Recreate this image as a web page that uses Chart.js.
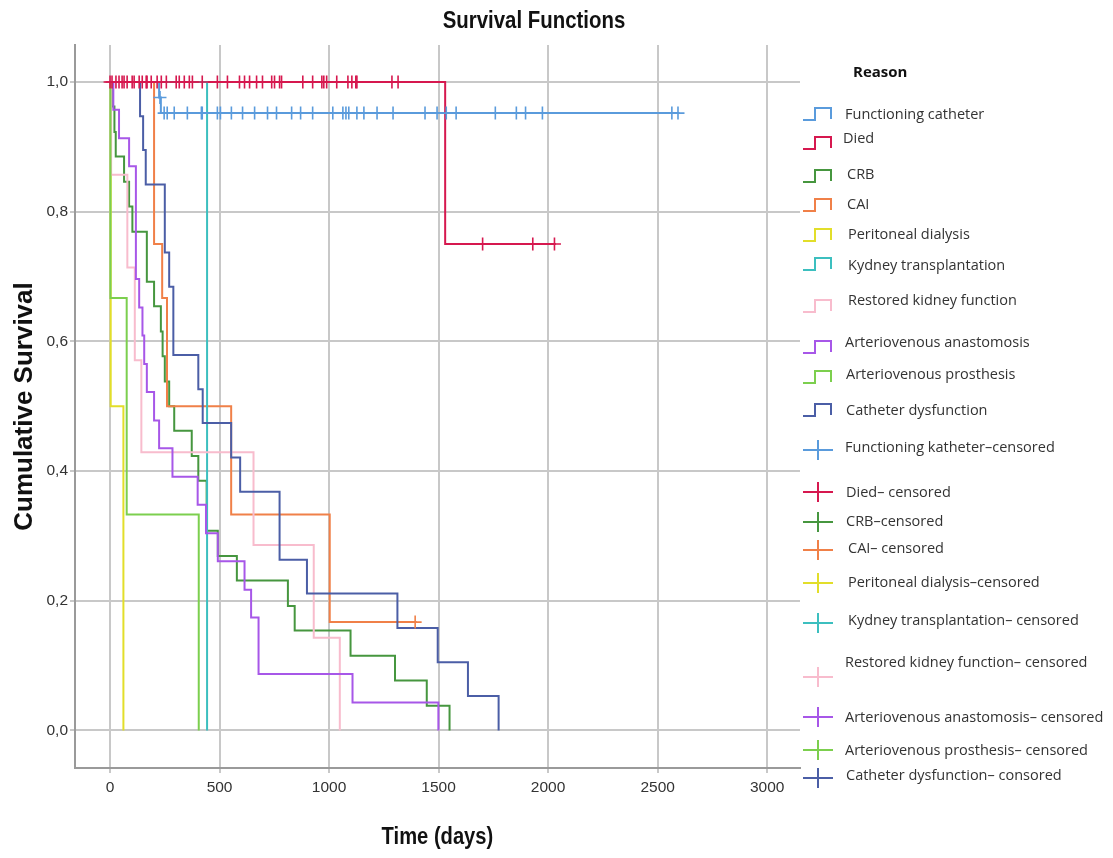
<!DOCTYPE html>
<html>
<head>
<meta charset="utf-8">
<script src="https://cdn.jsdelivr.net/npm/chart.js@4.4.1/dist/chart.umd.min.js"></script>
<style>
  html, body { margin: 0; padding: 0; background: #fff; }
  #wrap { position: relative; width: 1113px; height: 858px; }
  #title { position: absolute; left: 0; width: 1068px; top: 6px; text-align: center;
    font: bold 24px "Liberation Sans", Arial, sans-serif; color: #111;
    transform: scaleX(0.85); transform-origin: 534px 0; }
  #xtitle { position: absolute; left: 0; width: 875px; top: 822px; text-align: center;
    font: bold 24px "Liberation Sans", Arial, sans-serif; color: #111;
    transform: scaleX(0.84); transform-origin: 437px 0; }
  #legend { position: absolute; left: 0; top: 0; width: 1113px; height: 858px; pointer-events: none;
    font-family: "Open Sans", "Noto Sans", sans-serif; color: #333; }
  #legend .head { position: absolute; left: 853px; top: 61px; font-weight: bold; font-size: 15px; color: #111; }
  #legend .item { position: absolute; font-size: 14.5px; white-space: nowrap; line-height: 20px; }
  #legend svg { position: absolute; left: 802px; }
</style>
</head>
<body>
<div id="wrap">
  <canvas id="kmChart" width="1113" height="858"></canvas>
  <div id="title">Survival Functions</div>
  <div id="xtitle">Time (days)</div>
  <div id="legend"><div class="head">Reason</div></div>
</div>
<script>
// x ticks and y ticks
const xTicks = [0, 500, 1000, 1500, 2000, 2500, 3000];
const yTicks = [0, 0.2, 0.4, 0.6, 0.8, 1.0];

// Kaplan-Meier curves: time of each step and survival after it
const fcTimes = [0, 224, 232, 2600];
const fcSurv = [1, 0.976, 0.952, 0.952];
const diedTimes = [0, 1530, 2035];
const diedSurv = [1, 0.75, 0.75];
const crbTimes = [0, 8, 20, 26, 64, 87, 102, 168, 201, 232, 240, 250, 270, 293, 373, 403, 441, 492, 579, 812, 843, 1098, 1301, 1446, 1550];
const crbSurv = [1, 0.962, 0.923, 0.885, 0.846, 0.808, 0.769, 0.692, 0.654, 0.615, 0.577, 0.538, 0.5, 0.462, 0.423, 0.385, 0.308, 0.269, 0.231, 0.192, 0.154, 0.115, 0.077, 0.038, 0];
const caiTimes = [0, 201, 238, 260, 553, 1003, 1400];
const caiSurv = [1, 0.75, 0.667, 0.5, 0.333, 0.167, 0.167];
const pdTimes = [0, 3, 61];
const pdSurv = [1, 0.5, 0];
const ktTimes = [0, 443];
const ktSurv = [1, 0];
const rkTimes = [0, 5, 79, 113, 143, 655, 930, 1049];
const rkSurv = [1, 0.857, 0.714, 0.571, 0.429, 0.286, 0.143, 0];
const avaTimes = [0, 15, 41, 87, 118, 133, 148, 156, 168, 201, 224, 285, 400, 438, 492, 614, 644, 678, 1107, 1499];
const avaSurv = [1, 0.957, 0.913, 0.870, 0.696, 0.652, 0.609, 0.565, 0.522, 0.478, 0.435, 0.391, 0.348, 0.304, 0.261, 0.217, 0.174, 0.087, 0.043, 0];
const avpTimes = [0, 2, 76, 405];
const avpSurv = [1, 0.667, 0.333, 0];
const cdTimes = [0, 137, 151, 163, 250, 270, 289, 403, 423, 553, 594, 774, 899, 1312, 1496, 1634, 1774];
const cdSurv = [1, 0.947, 0.895, 0.842, 0.737, 0.684, 0.579, 0.526, 0.474, 0.421, 0.368, 0.263, 0.211, 0.158, 0.105, 0.053, 0];

// censored observations
const fcCensorT = [228, 247, 261, 293, 353, 417, 421, 490, 504, 554, 605, 660, 719, 760, 829, 870, 925, 1017, 1063, 1077, 1090, 1127, 1159, 1219, 1292, 1438, 1493, 1535, 1580, 1759, 1855, 1897, 1974, 2565, 2593];
const fcCensorS = [0.976, 0.952, 0.952, 0.952, 0.952, 0.952, 0.952, 0.952, 0.952, 0.952, 0.952, 0.952, 0.952, 0.952, 0.952, 0.952, 0.952, 0.952, 0.952, 0.952, 0.952, 0.952, 0.952, 0.952, 0.952, 0.952, 0.952, 0.952, 0.952, 0.952, 0.952, 0.952, 0.952, 0.952, 0.952];
const diedCensorT = [0, 9, 27, 41, 55, 64, 78, 101, 110, 133, 147, 165, 169, 188, 215, 234, 257, 302, 316, 339, 362, 376, 421, 490, 536, 591, 614, 637, 669, 696, 738, 751, 774, 783, 880, 925, 967, 976, 989, 1035, 1086, 1104, 1122, 1127, 1287, 1315, 1701, 1930, 2029];
const diedCensorS = [1, 1, 1, 1, 1, 1, 1, 1, 1, 1, 1, 1, 1, 1, 1, 1, 1, 1, 1, 1, 1, 1, 1, 1, 1, 1, 1, 1, 1, 1, 1, 1, 1, 1, 1, 1, 1, 1, 1, 1, 1, 1, 1, 1, 1, 1, 0.75, 0.75, 0.75];
const caiCensorT = [1393];
const caiCensorS = [0.167];

const groupNames = ['Functioning catheter', 'Died', 'CRB', 'CAI', 'Peritoneal dialysis', 'Kydney transplantation',
  'Restored kidney function', 'Arteriovenous anastomosis', 'Arteriovenous prosthesis', 'Catheter dysfunction'];
const censorNames = ['Functioning katheter\u2013censored', 'Died\u2013 censored', 'CRB\u2013censored', 'CAI\u2013 censored',
  'Peritoneal dialysis\u2013censored', 'Kydney transplantation\u2013 censored', 'Restored kidney function\u2013 censored',
  'Arteriovenous anastomosis\u2013 censored', 'Arteriovenous prosthesis\u2013 censored', 'Catheter dysfunction\u2013 consored'];
const groupColors = ['#5a9bdc', '#d6184f', '#46963f', '#f08048', '#e2de2a', '#3cbfbf', '#f8bccd', '#a757e8', '#7ccf4e', '#4b5ea6'];

const curveTimes = [fcTimes, diedTimes, crbTimes, caiTimes, pdTimes, ktTimes, rkTimes, avaTimes, avpTimes, cdTimes];
const curveSurv = [fcSurv, diedSurv, crbSurv, caiSurv, pdSurv, ktSurv, rkSurv, avaSurv, avpSurv, cdSurv];

const toPoints = (xs, ys) => xs.map((x, i) => ({ x: x, y: ys[i] }));

const datasets = curveTimes.map((times, i) => ({
  label: groupNames[i],
  data: toPoints(times, curveSurv[i]),
  borderColor: groupColors[i],
  borderWidth: 2,
  stepped: 'before',
  pointRadius: 0,
  fill: false,
  order: 100 - i
}));

[[fcCensorT, fcCensorS, 0], [diedCensorT, diedCensorS, 1], [caiCensorT, caiCensorS, 3]].forEach(([t, s, g]) => {
  datasets.push({
    label: censorNames[g],
    data: toPoints(t, s),
    showLine: false,
    pointStyle: 'cross',
    pointRadius: 6.5,
    pointBorderWidth: 1.6,
    borderColor: groupColors[g],
    backgroundColor: groupColors[g],
    order: 10 - g
  });
});

const gridStyle = { color: '#c8c8c8', lineWidth: 2, tickLength: 5 };
const tickFont = { family: '"Liberation Sans", Arial, sans-serif', size: 15.5 };

new Chart(document.getElementById('kmChart').getContext('2d'), {
  type: 'line',
  data: { datasets: datasets },
  options: {
    responsive: false,
    animation: false,
    layout: { padding: { top: 45, right: 313, left: 0, bottom: 0 } },
    plugins: { legend: { display: false }, tooltip: { enabled: false }, title: { display: false } },
    scales: {
      x: {
        type: 'linear', min: -160, max: 3150,
        afterBuildTicks: s => { s.ticks = xTicks.map(v => ({ value: v })); },
        afterFit: s => { s.height = 90; },
        grid: gridStyle,
        border: { display: true, color: '#9a9a9a', width: 2 },
        ticks: { font: tickFont, color: '#333', padding: 5, maxRotation: 0, callback: v => String(v) }
      },
      y: {
        type: 'linear', min: -0.058, max: 1.057,
        afterBuildTicks: s => { s.ticks = yTicks.map(v => ({ value: v })); },
        afterFit: s => { s.width = 75; },
        grid: gridStyle,
        border: { display: true, color: '#9a9a9a', width: 2 },
        ticks: { font: tickFont, color: '#333', padding: 2, callback: v => v.toFixed(1).replace('.', ',') },
        title: { display: true, text: 'Cumulative Survival', color: '#111',
          font: { family: '"Liberation Sans", Arial, sans-serif', size: 26, weight: 'bold' },
          padding: { top: 9, bottom: 0 } }
      }
    }
  }
});

// legend on the right, built from the group names and colours
const stepTextY = [114, 138, 174, 204, 234, 265, 300, 342, 374, 410];
const stepIconY = [114, 143, 176, 205, 235, 264, 306, 347, 377, 410];
const stepTextX = [845, 843, 847, 847, 848, 848, 848, 845, 846, 846];
const plusTextY = [447, 492, 521, 548, 582, 620, 662, 717, 750, 775];
const plusIconY = [450, 492, 522, 550, 583, 623, 677, 717, 750, 778];
const plusTextX = [845, 846, 846, 848, 848, 848, 845, 845, 845, 846];
const legend = document.getElementById('legend');
const svgNS = 'http://www.w3.org/2000/svg';

function addItem(text, color, textX, textY, iconY, kind) {
  const d = document.createElement('div');
  d.className = 'item';
  d.textContent = text;
  d.style.left = textX + 'px';
  d.style.top = (textY - 10) + 'px';
  legend.appendChild(d);
  const svg = document.createElementNS(svgNS, 'svg');
  svg.setAttribute('width', 32);
  svg.setAttribute('height', 22);
  svg.style.top = (iconY - 11) + 'px';
  const p = document.createElementNS(svgNS, 'path');
  p.setAttribute('d', kind === 'step' ? 'M1,17 H13 V5 H29 V16' : 'M1,11 H31 M16,1 V21');
  p.setAttribute('fill', 'none');
  p.setAttribute('stroke', color);
  p.setAttribute('stroke-width', 2);
  svg.appendChild(p);
  legend.appendChild(svg);
}

groupNames.forEach((n, i) => addItem(n, groupColors[i], stepTextX[i], stepTextY[i], stepIconY[i], 'step'));
censorNames.forEach((n, i) => addItem(n, groupColors[i], plusTextX[i], plusTextY[i], plusIconY[i], 'plus'));
</script>
</body>
</html>
